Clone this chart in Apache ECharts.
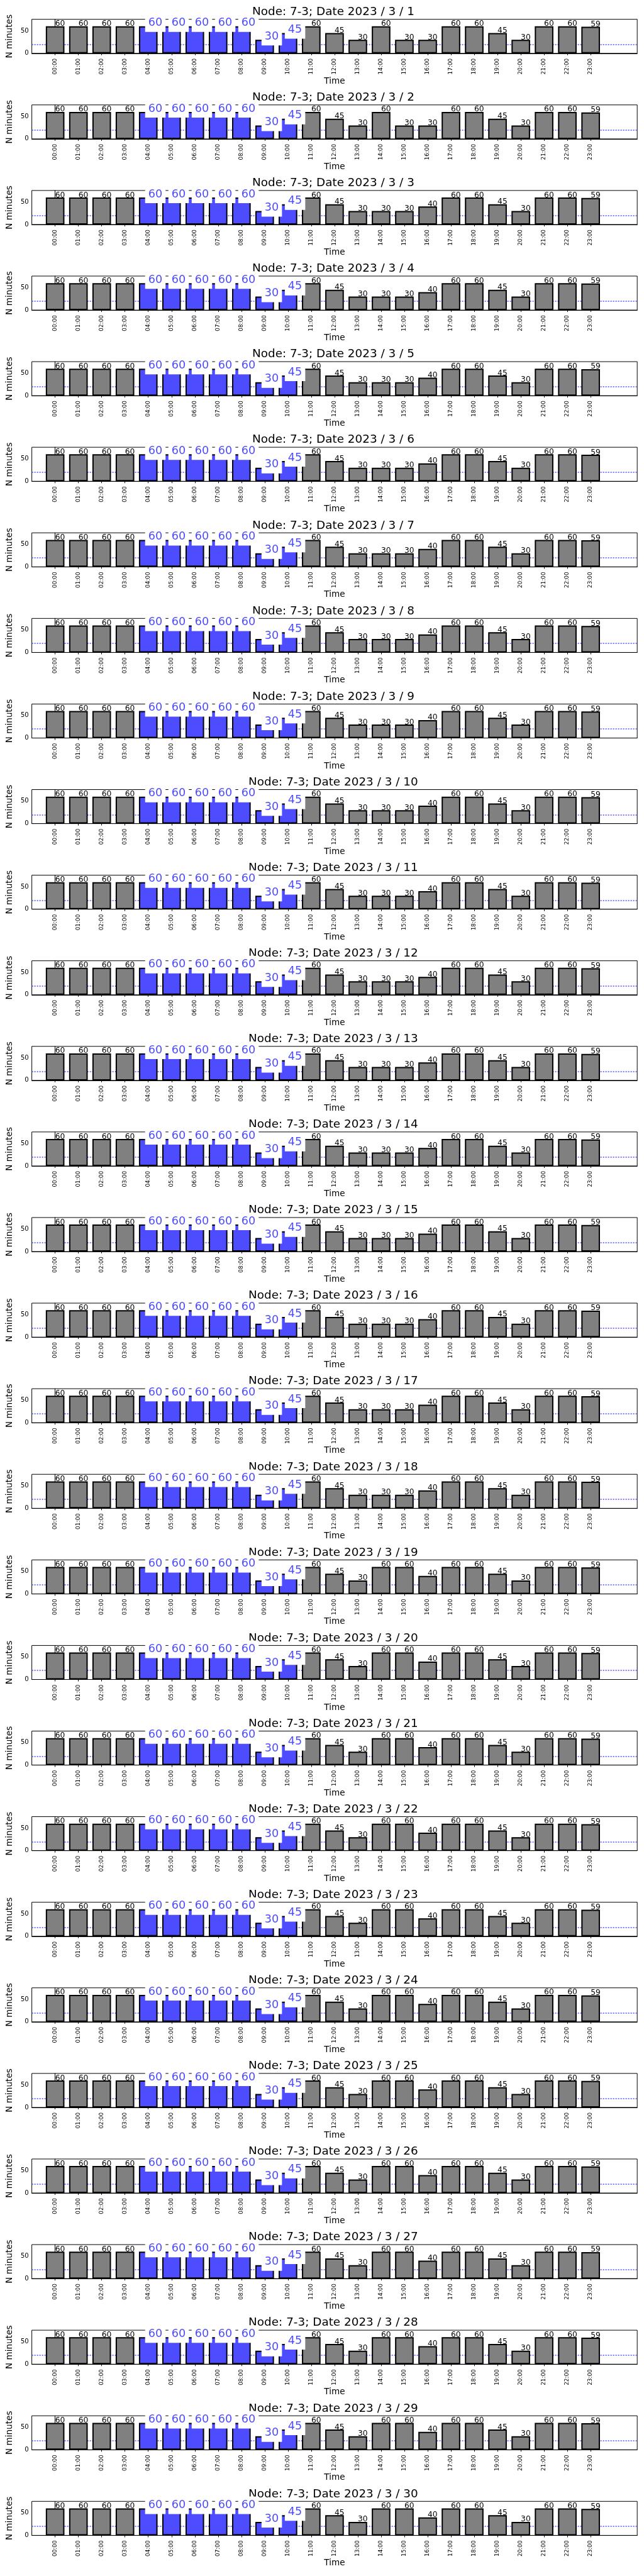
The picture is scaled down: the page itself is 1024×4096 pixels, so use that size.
<!DOCTYPE html>
<html><head><meta charset="utf-8">
<script src="https://cdn.jsdelivr.net/npm/echarts@6/dist/echarts.min.js"></script>
<style>html,body{margin:0;padding:0;background:#fff}#c{width:1024px;height:4096px}</style>
</head><body><div id="c"></div>
<script>
// ---------------- data ----------------
const NODE = '7-3';
const YEAR = 2023, MONTH = 3;
const DAYS = [1,2,3,4,5,6,7,8,9,10,11,12,13,14,15,16,17,18,19,20,21,22,23,24,25,26,27,28,29,30];
const HOURS = ['00:00','01:00','02:00','03:00','04:00','05:00','06:00','07:00','08:00','09:00','10:00','11:00',
               '12:00','13:00','14:00','15:00','16:00','17:00','18:00','19:00','20:00','21:00','22:00','23:00'];
// minutes per hour, identical on every day for 00:00 .. 13:00
const VALUES_00_13 = [60,60,60,60,60,60,60,60,60,30,45,60,45,30];
// per-day values for 14:00, 15:00, 16:00 (index = day-1)
const VALUES_14 = [60,60,30,30,30,30,30,30,30,30,30,30,30,30,30,30,30,30,60,60,60,60,60,60,60,60,60,60,60,60];
const VALUES_15 = [30,30,30,30,30,30,30,30,30,30,30,30,30,30,30,30,30,30,60,60,60,60,60,60,60,60,60,60,60,60];
const VALUES_16 = [30,30,40,40,40,40,40,40,40,40,40,40,40,40,40,40,40,40,40,40,40,40,40,40,40,40,40,40,40,40];
// identical on every day for 17:00 .. 23:00
const VALUES_17_23 = [60,60,45,30,60,60,59];
const HIGHLIGHT_FROM = 4, HIGHLIGHT_TO = 10;   // hours drawn in blue
const THRESHOLD = 20;
const Y_TICKS = [0, 50];
const Y_MAX = 75.6;

// ---------------- layout / style ----------------
const GRID_LEFT = 46.6, GRID_RIGHT = 10.8, GRID_TOP0 = 30.7, GRID_H = 54.1, STEP = 136.09;
const FONT = 'DejaVu Sans';
const GRAY = '#808080', BLUE = '#4d4dff';
const W = 1024;
const plotCenterX = GRID_LEFT + (W - GRID_LEFT - GRID_RIGHT) / 2;

const chart = echarts.init(document.getElementById('c'), null, {renderer: 'canvas'});
const grid = [], xAxis = [], yAxis = [], series = [], graphic = [];
const tickIdx = HOURS.map((_, i) => i);

DAYS.forEach((day, k) => {
  const vals = VALUES_00_13.concat([VALUES_14[k], VALUES_15[k], VALUES_16[k]], VALUES_17_23);
  const top = GRID_TOP0 + STEP * k;
  grid.push({left: GRID_LEFT, right: GRID_RIGHT, top: top, height: GRID_H, show: true,
    borderColor: '#000', borderWidth: 1, backgroundColor: 'transparent', containLabel: false});
  xAxis.push({gridIndex: k, type: 'value', min: -1, max: 25,
    axisLine: {show: true, onZero: false, lineStyle: {color: '#000', width: 1}},
    axisTick: {show: true, customValues: tickIdx, length: 3, lineStyle: {color: '#000', width: 1}},
    axisLabel: {show: true, customValues: tickIdx, formatter: v => HOURS[v] || '', rotate: 90,
      fontFamily: FONT, fontSize: 8.9, color: '#000', margin: 8},
    splitLine: {show: false},
    name: 'Time', nameLocation: 'middle', nameGap: 36,
    nameTextStyle: {fontFamily: FONT, fontSize: 13.6, color: '#000'}});
  yAxis.push({gridIndex: k, type: 'value', min: 0, max: Y_MAX,
    axisLine: {show: true, lineStyle: {color: '#000', width: 1}},
    axisTick: {show: true, customValues: Y_TICKS, length: 3, lineStyle: {color: '#000', width: 1}},
    axisLabel: {show: true, customValues: Y_TICKS, fontFamily: FONT, fontSize: 10, color: '#000', margin: 5},
    splitLine: {show: false},
    name: 'N minutes', nameLocation: 'middle', nameGap: 22,
    nameTextStyle: {fontFamily: FONT, fontSize: 13.6, color: '#000'}});
  series.push({type: 'bar', xAxisIndex: k, yAxisIndex: k, barWidth: '80%', z: 2, animation: false,
    data: vals.map((v, i) => {
      const hi = i >= HIGHLIGHT_FROM && i <= HIGHLIGHT_TO;
      return {value: [i, v],
        itemStyle: {color: hi ? BLUE : GRAY, borderColor: '#000', borderWidth: 2},
        label: hi ? {show: true, position: 'top', distance: -9, align: 'left', offset: [-5, 0],
                     color: BLUE, fontFamily: FONT, fontSize: 17.7, lineHeight: 20,
                     backgroundColor: '#fff', padding: [4, 5, 4, 5]}
                  : {show: true, position: 'top', distance: -2.5, align: 'left',
                     color: '#000', fontFamily: FONT, fontSize: 12.3, lineHeight: 12.3}};
    }),
    markLine: {silent: true, z: 1, symbol: 'none', animation: false,
      label: {show: false},
      lineStyle: {color: BLUE, type: [2, 2], width: 1.5},
      data: [{yAxis: THRESHOLD}]}
  });
  graphic.push({type: 'text', x: plotCenterX, y: 19.2 + STEP * k,
    style: {text: 'Node: ' + NODE + '; Date ' + YEAR + ' / ' + MONTH + ' / ' + day,
      textAlign: 'center', textVerticalAlign: 'middle', font: '18.4px "' + FONT + '"', fill: '#000'}});
});

chart.setOption({animation: false, grid, xAxis, yAxis, series, graphic});
</script></body></html>
